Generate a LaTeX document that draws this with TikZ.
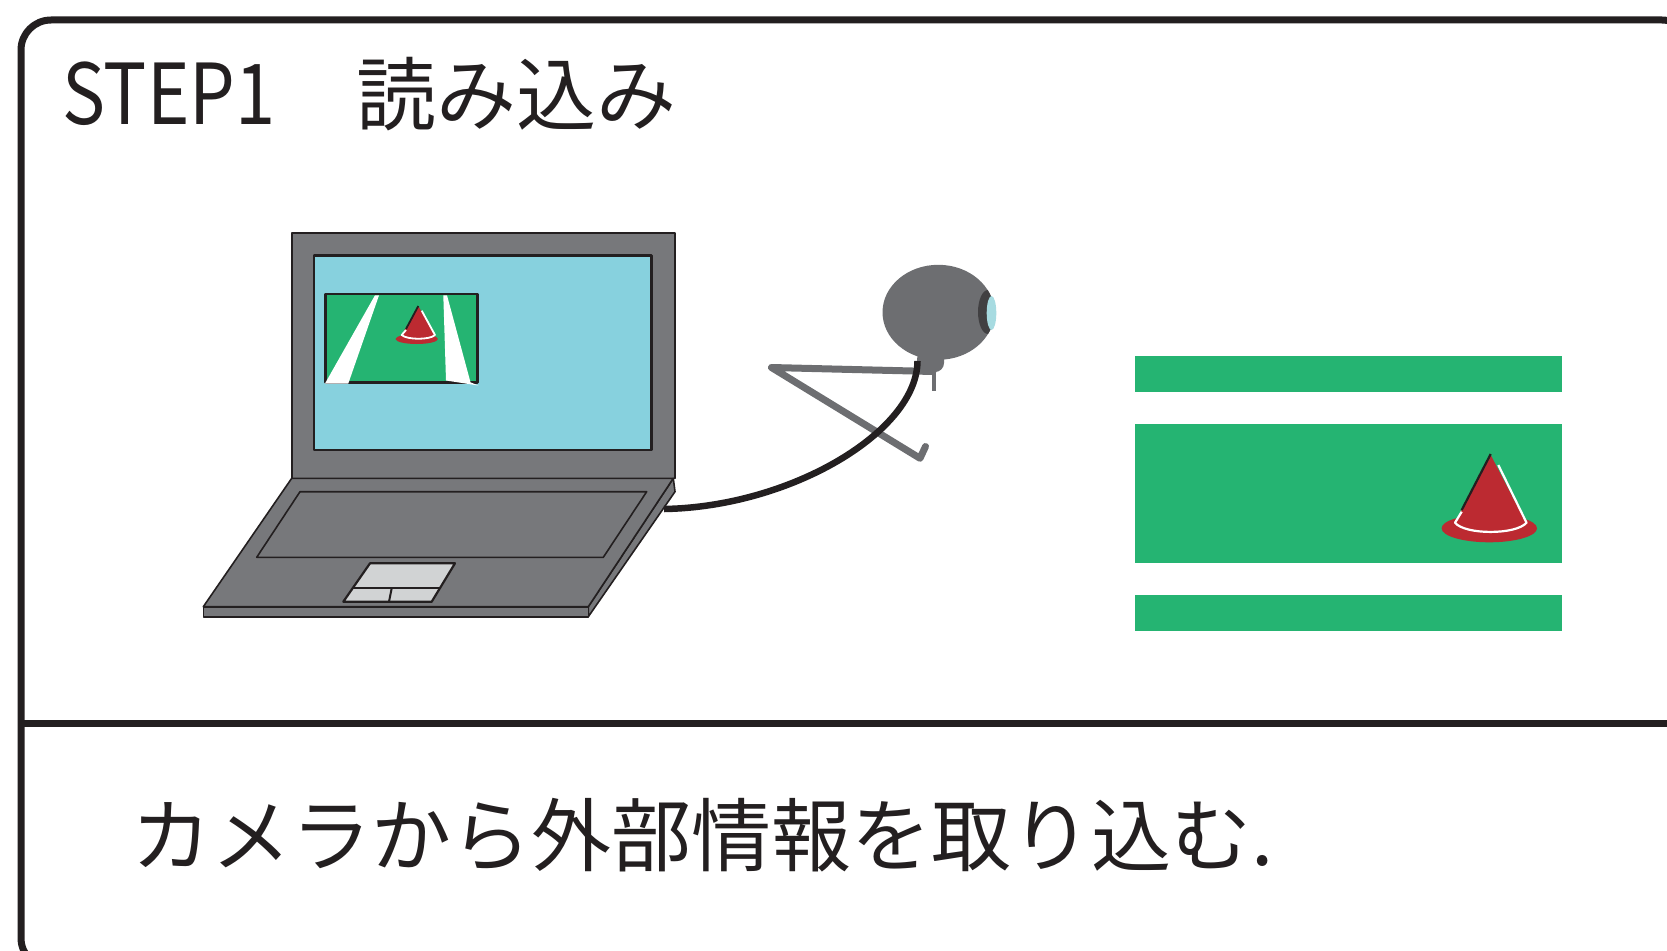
\documentclass[tikz,border=0pt]{standalone}
\usepackage{fontspec}
\setmainfont{Noto Sans CJK JP}
\definecolor{ink}{HTML}{231F20}
\definecolor{fieldgreen}{HTML}{25B472}
\definecolor{laptopgray}{HTML}{77787B}
\definecolor{screenblue}{HTML}{87D1DE}
\definecolor{padgray}{HTML}{D1D3D4}
\definecolor{camgray}{HTML}{6D6E71}
\definecolor{lensring}{HTML}{414042}
\definecolor{lensblue}{HTML}{A7DBE1}
\definecolor{conered}{HTML}{BC2A31}
\tikzset{
  frameline/.style={draw=ink, line width=7pt},
  bodyedge/.style={draw=ink, line width=1.6pt, fill=laptopgray},
  label/.style={inner sep=0pt, text=ink, font=\fontsize{80}{96}\selectfont},
  standbar/.style={draw=camgray, line width=7pt, line cap=round, line join=round},
  cable/.style={draw=ink, line width=6.5pt},
}
\begin{document}
\begin{tikzpicture}[x=1pt,y=-1pt,line join=round]
\useasboundingbox (0,0) rectangle (1667,950);
\clip (0,0) rectangle (1667,950);

% outer panel with its divider
\draw[frameline, rounded corners=30pt] (21,20) rectangle (1692,968);
\draw[frameline] (21,723.5) -- (1692,723.5);

% headings
\node[label, anchor=base west, font=\fontsize{84}{100}\selectfont] (steplabel) at (62,124) {\scalebox{0.86}[1]{STEP1}};
\node[label, anchor=west] (steptitle) at (356,94) {読み込み};
\node[label, anchor=west] (caption) at (131,835) {カメラから外部情報を取り込む.};

% ---- laptop: lid ----
\draw[bodyedge] (291.7,232.7) rectangle (675,478.3);
\draw[draw=ink, line width=2.5pt, fill=screenblue] (314,255.7) rectangle (651.7,450);
% camera view shown on the screen
\fill[fieldgreen] (325.7,294) rectangle (477.3,382.3);
\draw[ink, line width=2.5pt] (325.7,294) rectangle (477.3,382.3);
\fill[white] (325,383.5) -- (348.3,383.5) -- (379,295.3) -- (375,295.3) -- cycle;
\fill[white] (443.3,295.3) -- (447,295.3) -- (470.5,382.3) -- (478.3,385.5) -- (446,380.5) -- cycle;
\fill[conered] (416.7,339) ellipse [x radius=21.2, y radius=5];
\fill[conered] (418.3,306) -- (435,335) .. controls (430,340) and (407,340) .. (401.7,335) -- cycle;
\draw[white, line width=1.8pt] (421.7,310.7) -- (435,335) .. controls (430,340) and (407,340) .. (401.7,335) -- (406,330);
\draw[ink, line width=1.8pt] (418.3,306) -- (406,329);

% ---- laptop: base ----
\draw[bodyedge] (588.3,606.7) -- (673.3,478.3) -- (675,491.7) -- (588.3,616.7) -- cycle;
\draw[bodyedge] (203.3,606.7) rectangle (588.3,616.7);
\draw[bodyedge] (291.7,478.3) -- (673.3,478.3) -- (588.3,606.7) -- (203.3,606.7) -- cycle;
\draw[bodyedge] (300,491.7) -- (646.7,491.7) -- (603.3,557.3) -- (256.7,557.3) -- cycle;
\draw[draw=ink, line width=2.2pt, fill=padgray] (370,563.3) -- (455,563.3) -- (431.7,601.7) -- (343.3,601.7) -- cycle;
\draw[ink, line width=2pt] (351.5,588.3) -- (440,588.3);
\draw[ink, line width=2pt] (391.7,588.3) -- (389,601.7);
\coordinate (port) at (664,509);

% ---- camera ----
\draw[standbar] (933,371.5) -- (771.5,367.5) -- (920,458.3) -- (925.5,446.5);
\fill[camgray] (938.3,312.3) ellipse [x radius=55.8, y radius=47.5];
\begin{scope}
  \clip (938.3,312.3) ellipse [x radius=56, y radius=47.5];
  \fill[lensring] (988,312) ellipse [x radius=10, y radius=22];
\end{scope}
\fill[lensblue] (991.5,313) ellipse [x radius=4.8, y radius=17];
\fill[camgray, rounded corners=9pt] (917,350) rectangle (944,372);
\draw[camgray, line width=4.5pt] (934,368) -- (934,391);
\coordinate (neck) at (917.5,361);

% cable from the laptop to the camera
\draw[cable] (port) .. controls (790,507) and (917,432) .. (neck);

% ---- field with the cone ----
\fill[fieldgreen] (1135,356) rectangle (1562.3,392.3);
\fill[fieldgreen] (1135,424) rectangle (1562.3,563.3);
\fill[fieldgreen] (1135,595) rectangle (1562.3,631);
\fill[conered] (1489.3,528.3) ellipse [x radius=47.7, y radius=14];
\fill[conered] (1490.7,455) -- (1526,522.7) .. controls (1516,535) and (1465,535) .. (1455,522.7) -- cycle;
\draw[white, line width=2.2pt] (1498.3,465) -- (1526.5,522.7) .. controls (1516,535) and (1465,535) .. (1455,522.7) -- (1461.7,511.7);
\draw[ink, line width=2.2pt] (1490.7,454) -- (1461.7,510);
\end{tikzpicture}
\end{document}
